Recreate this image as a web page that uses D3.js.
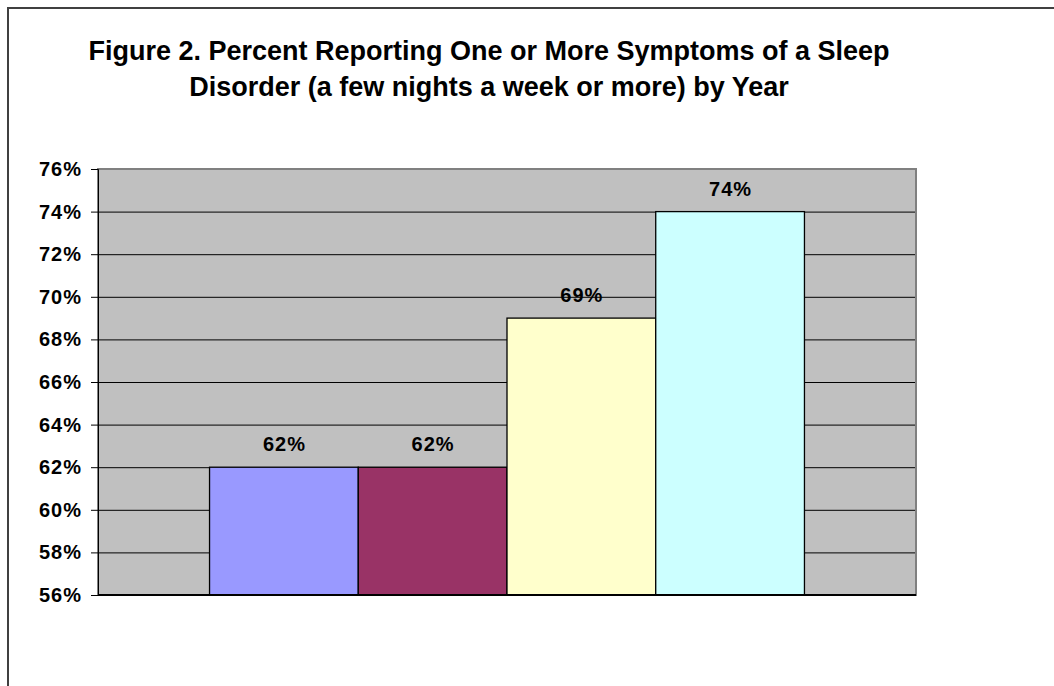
<!DOCTYPE html>
<html><head><meta charset="utf-8">
<script src="https://cdn.jsdelivr.net/npm/d3@7"></script>
<style>body{margin:0;background:#fff;} svg{display:block;font-family:"Liberation Sans",Arial,sans-serif;}</style>
</head><body>
<svg id="c" width="1054" height="686"></svg>
<script>
const titleLines = ["Figure 2. Percent Reporting One or More Symptoms of a Sleep", "Disorder (a few nights a week or more) by Year"];
const series = ["1999", "2000", "2001", "2002"];
const values = [62, 62, 69, 74];
const colors = ["#9999FF", "#993366", "#FFFFCC", "#CCFFFF"];
const yTicks = [56, 58, 60, 62, 64, 66, 68, 70, 72, 74, 76];

const svg = d3.select("#c");
const L = 98, R = 916, T = 169, B = 595;

// outer chart frame
svg.append("rect").attr("x", 8).attr("y", 8).attr("width", 1100).attr("height", 760)
  .attr("fill", "none").attr("stroke", "#404040").attr("stroke-width", 2);

const title = svg.append("text").attr("text-anchor", "middle").attr("font-weight", "bold")
  .attr("font-size", 27).attr("fill", "#000");
const titleY = [59.5, 95.5];
titleLines.forEach((t, i) => title.append("tspan").attr("x", 489).attr("y", titleY[i]).text(t));

const y = d3.scaleLinear().domain([56, 76]).range([B, T]);
const x = d3.scaleBand().domain(series).range([L, R]).paddingInner(0).paddingOuter(0.75);

svg.append("rect").attr("x", L).attr("y", T).attr("width", R - L).attr("height", B - T)
  .attr("fill", "#C0C0C0");

// gridlines
svg.append("g").selectAll("line").data(yTicks.filter(d => d > 56 && d < 76)).join("line")
  .attr("x1", L).attr("x2", R).attr("y1", d => y(d) + 0.5).attr("y2", d => y(d) + 0.5)
  .attr("stroke", "#000").attr("stroke-width", 1);

// plot border
svg.append("rect").attr("x", L).attr("y", T).attr("width", R - L).attr("height", B - T)
  .attr("fill", "none").attr("stroke", "#808080").attr("stroke-width", 2);

// bars
svg.append("g").selectAll("rect").data(values).join("rect")
  .attr("x", (d, i) => x(series[i]))
  .attr("y", d => y(d))
  .attr("width", x.bandwidth())
  .attr("height", d => y(56) - y(d))
  .attr("fill", (d, i) => colors[i])
  .attr("stroke", "#000").attr("stroke-width", 1.3);

// data labels
svg.append("g").selectAll("text").data(values).join("text")
  .attr("x", (d, i) => x(series[i]) + x.bandwidth() / 2 + 0.5)
  .attr("y", d => y(d) - 16)
  .attr("text-anchor", "middle").attr("font-weight", "bold").attr("font-size", 20)
  .attr("letter-spacing", 1)
  .text(d => d + "%");

// y axis
const yAxis = d3.axisLeft(y).tickValues(yTicks).tickFormat(d => d + "%").tickSize(7).tickPadding(9);
const ga = svg.append("g").attr("transform", `translate(${L},0)`).call(yAxis);
ga.select(".domain").attr("stroke", "#000").attr("stroke-width", 1);
ga.selectAll(".tick line").attr("stroke", "#000");
ga.selectAll(".tick text").attr("font-size", 20).attr("font-weight", "bold")
  .attr("letter-spacing", 1)
  .attr("font-family", "Liberation Sans, Arial, sans-serif").attr("fill", "#000");

// x axis baseline
svg.append("line").attr("x1", L).attr("x2", R).attr("y1", B).attr("y2", B)
  .attr("stroke", "#000").attr("stroke-width", 2);
</script>
</body></html>
